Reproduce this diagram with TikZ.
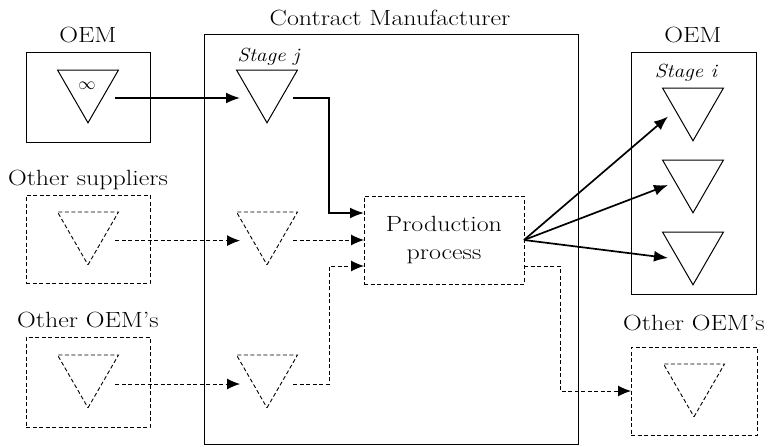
\documentclass[tikz,border=0pt]{standalone}
\usepackage{fontspec}
\usepackage{graphicx}
\usetikzlibrary{shapes.geometric,arrows.meta,calc}
\newcommand\wt[1]{\scalebox{1.18}[1]{#1}}
\newcommand\wts[1]{\scalebox{1.12}[1]{#1}}
\tikzset{
  every node/.style={font=\fontsize{22}{28}\selectfont},
  sbox/.style={draw, line width=0.9pt, inner sep=0pt, outer sep=0pt},
  dbox/.style={draw, line width=0.9pt, dash pattern=on 4pt off 2.5pt, inner sep=0pt, outer sep=0pt},
  tri/.style={regular polygon, regular polygon sides=3, shape border rotate=180,
    draw, line width=1pt, minimum size=70.4pt, inner sep=0pt, outer sep=0pt},
  dtri/.style={tri, line width=0.9pt, dash pattern=on 4pt off 2.5pt},
  sarrow/.style={line width=1.7pt, -{Latex[length=14pt,width=11pt]}},
  darrow/.style={line width=1pt, dash pattern=on 4pt off 2.5pt, -{Latex[length=13pt,width=11pt]}},
  lbl/.style={anchor=base, inner sep=0pt},
  stagelbl/.style={anchor=base, inner sep=0pt, font=\fontsize{19}{24}\selectfont\itshape}
}
\begin{document}
\begin{tikzpicture}[x=1pt,y=-1pt]
\useasboundingbox (0,0) rectangle (769,447);

% boxes
\node[sbox, minimum width=374pt, minimum height=410pt] (cm) at (391,239) {};
\node[sbox, minimum width=124pt, minimum height=90pt] (oemL) at (88,97) {};
\node[dbox, minimum width=124pt, minimum height=88pt] (supL) at (88,239) {};
\node[dbox, minimum width=124pt, minimum height=90pt] (othL) at (88,382) {};
\node[sbox, minimum width=125pt, minimum height=242pt] (oemR) at (693.5,173) {};
\node[dbox, minimum width=126pt, minimum height=88pt] (othR) at (694,391) {};
\node[dbox, minimum width=160pt, minimum height=88pt, align=center] (prod) at (444,240) {\wt{Production}\\\wt{process}};

% triangles
\node[tri] (tL1) at (88,87.6) {};
\node[font=\fontsize{16}{16}\selectfont, inner sep=0pt] (inf) at (87,86) {$\infty$};
\node[dtri] (tL2) at (88,229.6) {};
\node[dtri] (tL3) at (88,372.6) {};
\node[tri] (tM1) at (267,87.6) {};
\node[dtri] (tM2) at (267,229.6) {};
\node[dtri] (tM3) at (267,372.6) {};
\node[tri] (tR1) at (693,105.6) {};
\node[tri] (tR2) at (693,177.6) {};
\node[tri] (tR3) at (693,249.6) {};
\node[dtri] (tR4) at (694,381.6) {};

% labels
\node[lbl] (lOEML) at (88,42) {\wt{OEM}};
\node[lbl] (lCM) at (390,25) {\wt{Contract Manufacturer}};
\node[lbl] (lSup) at (88,185) {\wt{Other suppliers}};
\node[lbl] (lOthL) at (88,327) {\wt{Other OEM’s}};
\node[lbl] (lOEMR) at (693,42) {\wt{OEM}};
\node[lbl] (lOthR) at (694,330) {\wt{Other OEM’s}};
\node[stagelbl] (lSj) at (268.5,61) {\wts{Stage j}};
\node[stagelbl] (lSi) at (686,77) {\wts{Stage i}};

% connectors
\draw[sarrow] ($(tL1)+(27,10.4)$) -- ($(tM1)+(-27,10.4)$);
\draw[sarrow] ($(tM1)+(26,10.4)$) -| ($(prod.west)+(-35,-27)$) -- ($(prod.west)+(0,-27)$);
\draw[darrow] ($(tL2)+(27,11)$) -- ($(tM2)+(-27,11)$);
\draw[darrow] ($(tM2)+(26,10.4)$) -- (prod.west);
\draw[darrow] ($(tL3)+(27,11.4)$) -- ($(tM3)+(-27,11.4)$);
\draw[darrow] ($(tM3)+(26,11.4)$) -| ($(prod.west)+(-35,26)$) -- ($(prod.west)+(0,26)$);
\draw[sarrow] (prod.east) -- ($(tR1)+(-25,11)$);
\draw[sarrow] (prod.east) -- ($(tR2)+(-25,7.4)$);
\draw[sarrow] (prod.east) -- ($(tR3)+(-25,8.4)$);
\draw[darrow] ($(prod.east)+(0,26)$) -| ($(othR.west)+(-71,0)$) -- (othR.west);
\end{tikzpicture}
\end{document}
